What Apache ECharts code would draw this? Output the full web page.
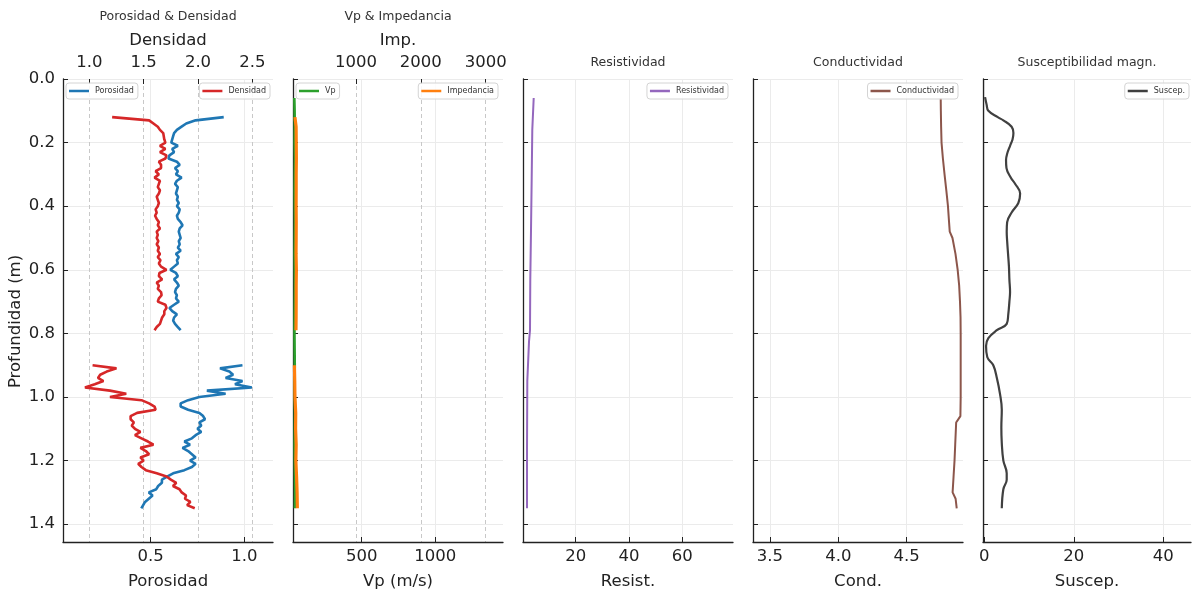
<!DOCTYPE html>
<html>
<head>
<meta charset="utf-8">
<title>Registro de pozo</title>
<script src="https://cdn.jsdelivr.net/npm/echarts@6/dist/echarts.min.js"></script>
<style>
  html, body { margin: 0; padding: 0; background: #fff; }
  #chart { width: 1193px; height: 597px; }
</style>
</head>
<body>
<div id="chart"></div>
<script>
// ---- Profundidades (m) ----
const depthUpper = [0.12,0.13,0.14,0.15,0.16,0.17,0.18,0.19,0.20,0.21,
  0.22,0.23,0.24,0.25,0.26,0.27,0.28,0.29,0.30,0.31,
  0.32,0.33,0.34,0.35,0.36,0.37,0.38,0.39,0.40,0.41,
  0.42,0.43,0.44,0.45,0.46,0.47,0.48,0.49,0.50,0.51,
  0.52,0.53,0.54,0.55,0.56,0.57,0.58,0.59,0.60,0.61,
  0.62,0.63,0.64,0.65,0.66,0.67,0.68,0.69,0.70,0.71,
  0.72,0.73,0.74,0.75,0.76,0.77,0.78,0.79];
const depthLower = [0.90,0.91,0.92,0.93,0.94,0.95,0.96,0.97,0.98,0.99,
  1.00,1.01,1.02,1.03,1.04,1.05,1.06,1.07,1.08,1.09,
  1.10,1.11,1.12,1.13,1.14,1.15,1.16,1.17,1.18,1.19,
  1.20,1.21,1.22,1.23,1.24,1.25,1.26,1.27,1.28,1.29,
  1.30,1.31,1.32,1.33,1.34,1.35];

// ---- Porosidad (fracción) ----
const porosidadUpper = [0.89,0.74,0.69,0.665,0.64,0.625,0.62,0.615,0.61,0.645,
  0.615,0.625,0.60,0.595,0.64,0.655,0.63,0.645,0.635,0.665,
  0.64,0.63,0.645,0.64,0.635,0.645,0.64,0.65,0.64,0.655,
  0.65,0.64,0.645,0.66,0.67,0.655,0.65,0.655,0.66,0.65,
  0.655,0.645,0.66,0.635,0.65,0.64,0.645,0.625,0.605,0.635,
  0.645,0.625,0.64,0.65,0.635,0.63,0.64,0.635,0.65,0.625,
  0.60,0.615,0.64,0.625,0.62,0.63,0.645,0.66];
const porosidadLower = [0.99,0.87,0.92,0.94,0.90,0.99,0.95,1.04,0.80,0.90,
  0.76,0.70,0.66,0.66,0.70,0.76,0.78,0.79,0.76,0.77,
  0.75,0.77,0.74,0.72,0.68,0.71,0.67,0.70,0.72,0.74,
  0.71,0.74,0.72,0.68,0.62,0.59,0.56,0.56,0.54,0.53,
  0.49,0.51,0.49,0.47,0.46,0.45];

// ---- Densidad (g/cm3) ----
const densidadUpper = [1.21,1.55,1.59,1.63,1.65,1.68,1.685,1.69,1.70,1.65,
  1.70,1.65,1.71,1.70,1.64,1.66,1.66,1.61,1.64,1.60,
  1.65,1.64,1.63,1.65,1.64,1.62,1.63,1.64,1.63,1.61,
  1.62,1.605,1.62,1.64,1.63,1.65,1.62,1.63,1.62,1.635,
  1.62,1.64,1.63,1.65,1.63,1.655,1.64,1.66,1.71,1.645,
  1.64,1.67,1.62,1.64,1.63,1.66,1.665,1.64,1.63,1.70,
  1.71,1.69,1.69,1.67,1.66,1.65,1.62,1.60];
const densidadLower = [1.03,1.25,1.16,1.10,1.08,1.13,1.05,0.96,1.19,1.34,
  1.19,1.48,1.55,1.60,1.61,1.44,1.38,1.38,1.41,1.39,
  1.42,1.47,1.42,1.48,1.54,1.59,1.47,1.52,1.55,1.47,
  1.50,1.45,1.48,1.52,1.62,1.71,1.75,1.80,1.77,1.83,
  1.85,1.89,1.88,1.93,1.90,1.97];

// ---- Velocidad P (m/s) ----
const depthVp = [0.06,0.10,0.15,0.20,0.25,0.30,0.35,0.40,0.45,0.50,0.55,0.60,0.65,0.70,
  0.75,0.80,0.85,0.90,0.95,1.00,1.05,1.10,1.15,1.20,1.25,1.30,1.35];
const vpValues = [42,44,45,44,46,45,44,45,46,45,44,45,46,45,
  44,43,44,45,44,45,46,45,44,45,46,47,46];

// ---- Impedancia acústica ----
const depthImpUpper = [0.12,0.15,0.20,0.25,0.30,0.35,0.40,0.45,0.50,0.55,0.60,0.65,0.70,0.75,0.79];
const impUpper = [58,76,78,80,77,77,76,78,77,75,80,77,77,76,74];
const depthImpLower = [0.90,0.95,1.00,1.05,1.10,1.15,1.20,1.25,1.30,1.35];
const impLower = [50,55,58,70,68,77,72,83,91,95];

// ---- Resistividad ----
const depthRes = [0.06,0.16,0.31,0.475,0.63,0.79,0.826,0.83,0.95,1.16,1.35];
const resValues = [4.24,3.71,3.49,3.23,2.96,2.85,2.48,1.99,1.84,1.73,1.73];

// ---- Conductividad ----
const depthCond = [0.06,0.10,0.15,0.20,0.25,0.30,0.35,0.40,0.45,0.48,0.50,0.55,0.60,0.65,
  0.70,0.75,0.80,0.90,1.00,1.06,1.08,1.15,1.20,1.25,1.30,1.32,1.35];
const condValues = [4.749,4.750,4.752,4.755,4.765,4.777,4.790,4.802,4.810,4.815,4.835,4.857,4.873,4.884,
  4.890,4.894,4.895,4.895,4.895,4.893,4.862,4.855,4.850,4.843,4.836,4.858,4.866];

// ---- Susceptibilidad magnética ----
const depthSus = [0.057,0.08,0.10,0.12,0.13,0.15,0.17,0.19,0.21,0.235,0.255,0.28,0.31,0.33,
  0.36,0.39,0.42,0.45,0.48,0.51,0.55,0.59,0.63,0.67,0.70,0.74,0.77,0.79,0.815,0.84,
  0.875,0.90,0.94,0.99,1.04,1.095,1.145,1.20,1.24,1.26,1.29,1.35];
const susValues = [0.16,0.5,0.9,3.0,4.25,6.1,6.5,6.3,5.75,5.1,4.85,4.95,5.9,6.9,
  8.0,7.6,6.1,5.1,5.0,5.1,5.3,5.5,5.6,5.75,5.6,5.35,5.0,2.8,0.9,0.38,
  0.67,2.0,2.8,3.5,3.9,3.8,3.9,4.25,5.0,5.0,4.25,3.9];

// ---- Marcas de los ejes ----
const depthTicks = [0,0.2,0.4,0.6,0.8,1.0,1.2,1.4];
const porTicks = [0.5,1.0];
const denTicks = [1.0,1.5,2.0,2.5];
const vpTicks = [500,1000];
const impTicks = [1000,2000,3000];
const resTicks = [20,40,60];
const condTicks = [3.5,4.0,4.5];
const susTicks = [0,20,40];

// ---- helpers ----
const FONT = 'DejaVu Sans';
const INK = '#222';
function pairs(xs, ys) { return xs.map((x, i) => [x, ys[i]]); }
function withGap(a, b, gapDepth) { return a.concat([['-', gapDepth]], b); }
const fmt1 = v => v.toFixed(1);
const fmt0 = v => String(v);

const panels = [
  { left: 63, width: 210 },
  { left: 293, width: 210 },
  { left: 523, width: 210 },
  { left: 753, width: 210 },
  { left: 983, width: 208 }
];
const TOP = 79, HEIGHT = 463;

function bottomAxis(grid, min, max, ticks, name, fmt) {
  return {
    type: 'value', gridIndex: grid, position: 'bottom', min: min, max: max,
    name: name, nameLocation: 'middle', nameGap: 31,
    nameTextStyle: { fontSize: 16.5, color: INK, fontFamily: FONT },
    axisLine: { show: true, onZero: false, lineStyle: { color: INK, width: 1.3 } },
    axisTick: { show: true, inside: true, length: 5, customValues: ticks, lineStyle: { color: INK, width: 1 } },
    axisLabel: { show: true, customValues: ticks, formatter: fmt, fontSize: 16.5, color: INK, margin: 6, fontFamily: FONT },
    splitLine: { show: true, lineStyle: { color: '#ebebeb', width: 1 } }
  };
}
function topAxis(grid, min, max, ticks, name, fmt) {
  return {
    type: 'value', gridIndex: grid, position: 'top', min: min, max: max,
    name: name, nameLocation: 'middle', nameGap: 27,
    nameTextStyle: { fontSize: 16.5, color: INK, fontFamily: FONT },
    axisLine: { show: false, onZero: false },
    axisTick: { show: true, inside: true, length: 5, customValues: ticks, lineStyle: { color: INK, width: 1 } },
    axisLabel: { show: true, customValues: ticks, formatter: fmt, fontSize: 16.5, color: INK, margin: 8, fontFamily: FONT },
    splitLine: { show: true, lineStyle: { color: '#c8c8c8', width: 1, type: [4, 3] } }
  };
}
function depthAxis(grid, labelled) {
  return {
    type: 'value', gridIndex: grid, inverse: true, min: 0, max: 1.456,
    name: labelled ? 'Profundidad (m)' : '', nameLocation: 'middle', nameGap: 39,
    nameTextStyle: { fontSize: 16.5, color: INK, fontFamily: FONT, padding: [0, 22, 0, 0] },
    axisLine: { show: true, onZero: false, lineStyle: { color: INK, width: 1.3 } },
    axisTick: { show: true, inside: true, length: 5, customValues: depthTicks, lineStyle: { color: INK, width: 1 } },
    axisLabel: { show: labelled, customValues: depthTicks, formatter: fmt1, fontSize: 16.5, color: INK, margin: 8, fontFamily: FONT },
    splitLine: { show: true, lineStyle: { color: '#ebebeb', width: 1 } }
  };
}
function title(text, cx, top) {
  return { text: text, left: cx, top: top, textAlign: 'center', padding: 0,
    textStyle: { fontSize: 12.5, fontWeight: 'normal', color: '#333', fontFamily: FONT } };
}
function legend(name, pos) {
  return Object.assign({
    data: [{ name: name, icon: 'rect' }], top: 83, orient: 'horizontal',
    itemWidth: 20, itemHeight: 2.5, itemGap: 4,
    padding: [4, 4, 4, 3],
    backgroundColor: 'rgba(255,255,255,0.85)', borderColor: '#d4d4d4', borderWidth: 1, borderRadius: 3,
    textStyle: { fontSize: 8, color: '#333', fontFamily: FONT, padding: [0, 0, 0, 1] },
    selectedMode: false
  }, pos);
}
function line(name, xIdx, yIdx, data, color, width, extra) {
  return Object.assign({
    name: name, type: 'line', xAxisIndex: xIdx, yAxisIndex: yIdx, data: data,
    showSymbol: false, symbol: 'none', connectNulls: false,
    lineStyle: { color: color, width: width }, itemStyle: { color: color },
    emphasis: { disabled: true }, z: 3
  }, extra || {});
}

const option = {
  animation: false,
  backgroundColor: '#fff',
  textStyle: { fontFamily: FONT },
  title: [
    title('Porosidad & Densidad', 168, 10),
    title('Vp & Impedancia', 398, 10),
    title('Resistividad', 628, 56),
    title('Conductividad', 858, 56),
    title('Susceptibilidad magn.', 1087, 56)
  ],
  legend: [
    legend('Porosidad', { left: 66 }),
    legend('Densidad', { right: 1193 - 270 }),
    legend('Vp', { left: 296 }),
    legend('Impedancia', { right: 1193 - 498 }),
    legend('Resistividad', { right: 1193 - 728 }),
    legend('Conductividad', { right: 1193 - 958 }),
    legend('Suscep.', { right: 1193 - 1189 })
  ],
  grid: panels.map(p => ({ left: p.left, top: TOP, width: p.width, height: HEIGHT, containLabel: false })),
  xAxis: [
    bottomAxis(0, 0.032, 1.153, porTicks, 'Porosidad', fmt1),
    topAxis(0, 0.758, 2.690, denTicks, 'Densidad', fmt1),
    bottomAxis(1, 33, 1460, vpTicks, 'Vp (m/s)', fmt0),
    topAxis(1, 28, 3267, impTicks, 'Imp.', fmt0),
    bottomAxis(2, 0.225, 79.0, resTicks, 'Resist.', fmt0),
    bottomAxis(3, 3.376, 4.912, condTicks, 'Cond.', fmt1),
    bottomAxis(4, -0.3, 46.2, susTicks, 'Suscep.', fmt0)
  ],
  yAxis: [depthAxis(0, true), depthAxis(1, false), depthAxis(2, false), depthAxis(3, false), depthAxis(4, false)],
  series: [
    line('Porosidad', 0, 0, withGap(pairs(porosidadUpper, depthUpper), pairs(porosidadLower, depthLower), 0.85), '#1f77b4', 2.6),
    line('Densidad', 1, 0, withGap(pairs(densidadUpper, depthUpper), pairs(densidadLower, depthLower), 0.85), '#d62728', 2.6),
    line('Vp', 2, 1, pairs(vpValues, depthVp), '#2ca02c', 2.6),
    line('Impedancia', 3, 1, withGap(pairs(impUpper, depthImpUpper), pairs(impLower, depthImpLower), 0.85), '#ff7f0e', 3.2, { z: 4 }),
    line('Resistividad', 4, 2, pairs(resValues, depthRes), '#9467bd', 2),
    line('Conductividad', 5, 3, pairs(condValues, depthCond), '#8c564b', 2),
    line('Suscep.', 6, 4, pairs(susValues, depthSus), '#404040', 2.2, { smooth: 0.4 })
  ]
};

const chart = echarts.init(document.getElementById('chart'), null, { renderer: 'canvas' });
chart.setOption(option);
</script>
</body>
</html>
